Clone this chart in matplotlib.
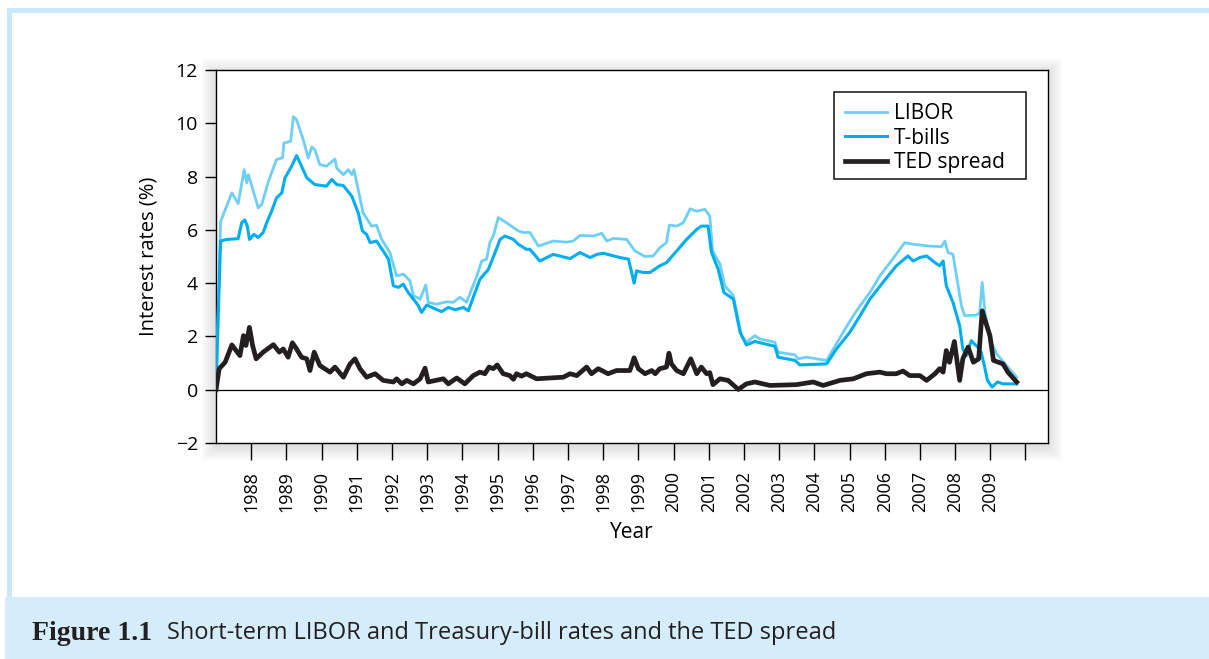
import numpy as np
import matplotlib.pyplot as plt
from matplotlib.patches import Rectangle

# values (year, percent)
libor_year = [1987.0, 1987.13, 1987.45, 1987.63, 1987.80, 1987.87, 1987.92, 1988.20, 1988.30,
              1988.49, 1988.72, 1988.89, 1988.93, 1989.12, 1989.20, 1989.29, 1989.48, 1989.62,
              1989.72, 1989.81, 1989.95, 1990.14, 1990.38, 1990.43, 1990.62, 1990.76, 1990.86,
              1990.92, 1991.00, 1991.18, 1991.42, 1991.56, 1991.71, 1991.94, 1992.13, 1992.32,
              1992.51, 1992.61, 1992.80, 1992.96, 1993.03, 1993.27, 1993.55, 1993.74, 1993.93,
              1994.12, 1994.41, 1994.55, 1994.69, 1994.78, 1994.88, 1995.02, 1995.25, 1995.59,
              1995.73, 1995.92, 1996.16, 1996.58, 1996.96, 1997.15, 1997.34, 1997.72, 1997.96,
              1998.11, 1998.29, 1998.67, 1998.90, 1999.19, 1999.42, 1999.61, 1999.80, 1999.88,
              2000.09, 2000.28, 2000.47, 2000.66, 2000.89, 2001.03, 2001.11, 2001.32, 2001.46,
              2001.70, 2001.93, 2002.07, 2002.31, 2002.45, 2002.88, 2002.97, 2003.45, 2003.54,
              2003.78, 2004.35, 2004.54, 2004.82, 2005.11, 2005.30, 2005.58, 2005.86, 2006.15,
              2006.43, 2006.57, 2006.81, 2007.28, 2007.61, 2007.71, 2007.80, 2007.94, 2008.04,
              2008.18, 2008.27, 2008.61, 2008.70, 2008.77, 2008.85, 2008.99, 2009.18, 2009.46,
              2009.75]
libor = [0.0, 6.31, 7.39, 6.99, 8.26, 7.76, 8.07, 6.83, 6.95,
         7.82, 8.64, 8.70, 9.26, 9.32, 10.25, 10.13, 9.38, 8.70,
         9.11, 9.01, 8.45, 8.39, 8.66, 8.32, 8.07, 8.26, 8.07,
         8.26, 7.76, 6.64, 6.14, 6.17, 5.64, 5.15, 4.27, 4.34,
         4.09, 3.53, 3.40, 3.93, 3.28, 3.21, 3.30, 3.28, 3.47,
         3.28, 4.27, 4.83, 4.90, 5.52, 5.77, 6.46, 6.27, 5.96,
         5.90, 5.90, 5.39, 5.58, 5.54, 5.58, 5.79, 5.77, 5.87,
         5.58, 5.68, 5.64, 5.21, 5.00, 5.02, 5.33, 5.52, 6.18,
         6.14, 6.27, 6.79, 6.70, 6.77, 6.52, 5.21, 4.71, 3.90,
         3.53, 2.03, 1.78, 2.03, 1.91, 1.78, 1.41, 1.31, 1.16,
         1.22, 1.10, 1.53, 2.16, 2.78, 3.15, 3.65, 4.27, 4.77,
         5.27, 5.52, 5.46, 5.39, 5.37, 5.58, 5.15, 5.08, 4.27,
         3.15, 2.78, 2.80, 2.90, 4.03, 2.90, 1.91, 1.35, 0.91,
         0.47]

tbill_year = [1987.0, 1987.13, 1987.30, 1987.63, 1987.73, 1987.82, 1987.89, 1987.95, 1988.08,
              1988.20, 1988.34, 1988.44, 1988.58, 1988.72, 1988.87, 1988.96, 1989.15, 1989.29,
              1989.43, 1989.58, 1989.81, 1990.14, 1990.29, 1990.43, 1990.62, 1990.86, 1991.04,
              1991.16, 1991.28, 1991.38, 1991.56, 1991.75, 1991.90, 1992.04, 1992.18, 1992.32,
              1992.46, 1992.61, 1992.75, 1992.84, 1992.99, 1993.13, 1993.41, 1993.60, 1993.79,
              1994.03, 1994.17, 1994.36, 1994.50, 1994.74, 1994.93, 1995.07, 1995.21, 1995.45,
              1995.59, 1995.82, 1995.92, 1996.20, 1996.58, 1997.06, 1997.34, 1997.63, 1997.82,
              1998.01, 1998.48, 1998.72, 1998.81, 1998.88, 1998.95, 1999.14, 1999.33, 1999.61,
              1999.80, 2000.09, 2000.37, 2000.66, 2000.79, 2000.98, 2001.08, 2001.27, 2001.43,
              2001.70, 2001.89, 2002.07, 2002.31, 2002.88, 2002.97, 2003.45, 2003.59, 2004.35,
              2004.63, 2005.01, 2005.30, 2005.58, 2005.95, 2006.33, 2006.66, 2006.81, 2007.00,
              2007.19, 2007.43, 2007.56, 2007.66, 2007.75, 2007.94, 2008.13, 2008.22, 2008.32,
              2008.46, 2008.64, 2008.74, 2008.83, 2008.92, 2009.05, 2009.21, 2009.36, 2009.75]
tbill = [0.0, 5.58, 5.64, 5.67, 6.27, 6.37, 6.14, 5.64, 5.83,
         5.71, 5.90, 6.27, 6.70, 7.20, 7.39, 7.95, 8.39, 8.79,
         8.39, 7.95, 7.70, 7.64, 7.89, 7.70, 7.66, 7.26, 6.64,
         5.96, 5.83, 5.52, 5.58, 5.21, 4.90, 3.90, 3.84, 3.96,
         3.65, 3.40, 3.15, 2.90, 3.18, 3.09, 2.93, 3.09, 3.00,
         3.09, 2.96, 3.65, 4.15, 4.52, 5.15, 5.64, 5.77, 5.64,
         5.46, 5.27, 5.27, 4.83, 5.08, 4.92, 5.15, 4.96, 5.08,
         5.12, 4.96, 4.90, 4.40, 4.00, 4.46, 4.40, 4.40, 4.65,
         4.77, 5.21, 5.64, 6.02, 6.14, 6.14, 5.15, 4.52, 3.65,
         3.40, 2.16, 1.68, 1.81, 1.63, 1.22, 1.10, 0.93, 0.97,
         1.53, 2.16, 2.78, 3.40, 4.03, 4.65, 5.02, 4.83, 4.96,
         5.02, 4.77, 4.65, 4.83, 3.90, 3.28, 2.40, 1.53, 1.28,
         1.84, 1.60, 1.41, 0.91, 0.35, 0.10, 0.29, 0.22, 0.22]

ted_year = [1987.0, 1987.09, 1987.26, 1987.45, 1987.68, 1987.78, 1987.85, 1987.95, 1988.04,
            1988.14, 1988.34, 1988.63, 1988.80, 1988.91, 1989.05, 1989.17, 1989.29, 1989.43,
            1989.58, 1989.67, 1989.79, 1989.95, 1990.24, 1990.38, 1990.62, 1990.81, 1990.95,
            1991.09, 1991.28, 1991.52, 1991.75, 1992.04, 1992.13, 1992.28, 1992.42, 1992.61,
            1992.80, 1992.94, 1993.03, 1993.46, 1993.60, 1993.84, 1994.07, 1994.31, 1994.50,
            1994.64, 1994.76, 1994.88, 1994.99, 1995.16, 1995.35, 1995.45, 1995.54, 1995.68,
            1995.82, 1996.11, 1996.87, 1997.06, 1997.25, 1997.53, 1997.67, 1997.86, 1998.14,
            1998.38, 1998.76, 1998.88, 1999.00, 1999.19, 1999.38, 1999.48, 1999.61, 1999.80,
            1999.87, 1999.94, 2000.09, 2000.28, 2000.49, 2000.66, 2000.79, 2000.94, 2001.03,
            2001.12, 2001.32, 2001.55, 2001.84, 2002.07, 2002.31, 2002.74, 2003.49, 2003.97,
            2004.25, 2004.73, 2005.11, 2005.48, 2005.86, 2006.05, 2006.33, 2006.52, 2006.71,
            2007.00, 2007.19, 2007.43, 2007.56, 2007.66, 2007.75, 2007.84, 2007.98, 2008.13,
            2008.22, 2008.37, 2008.52, 2008.67, 2008.77, 2008.87, 2008.99, 2009.09, 2009.36,
            2009.50, 2009.75]
ted = [0.0, 0.79, 1.03, 1.68, 1.28, 2.03, 1.66, 2.34, 1.66,
       1.16, 1.41, 1.69, 1.41, 1.53, 1.22, 1.76, 1.53, 1.22,
       1.16, 0.72, 1.41, 0.91, 0.66, 0.85, 0.47, 0.97, 1.16,
       0.79, 0.47, 0.60, 0.35, 0.29, 0.41, 0.22, 0.35, 0.22,
       0.41, 0.81, 0.29, 0.41, 0.22, 0.44, 0.22, 0.53, 0.66,
       0.60, 0.85, 0.79, 0.93, 0.60, 0.53, 0.39, 0.60, 0.51,
       0.60, 0.41, 0.47, 0.60, 0.53, 0.85, 0.60, 0.79, 0.60,
       0.72, 0.72, 1.20, 0.79, 0.60, 0.72, 0.60, 0.79, 0.85,
       1.37, 0.97, 0.72, 0.60, 1.16, 0.60, 0.85, 0.60, 0.64,
       0.19, 0.41, 0.35, 0.01, 0.22, 0.29, 0.16, 0.19, 0.29,
       0.16, 0.35, 0.41, 0.60, 0.66, 0.60, 0.60, 0.70, 0.53,
       0.53, 0.35, 0.60, 0.79, 0.66, 1.47, 1.03, 1.81, 0.35,
       1.16, 1.60, 1.03, 1.16, 2.96, 2.53, 2.03, 1.10, 0.97,
       0.66, 0.29]

years = list(range(1988, 2011))
year_labels = [str(y) for y in range(1988, 2010)] + [""]

LIBOR_C = "#6dcff6"
TBILL_C = "#00aeef"
TED_C = "#231f20"
FRAME_C = "#c9e9fa"
CAPTION_C = "#d5edfa"

plt.rcParams["font.family"] = ["Open Sans", "DejaVu Sans"]

W, H = 1209, 659
fig = plt.figure(figsize=(W / 100, H / 100), dpi=100)


def px_rect(x0, y0, x1, y1, color, z=-1, alpha=1.0):
    """Rectangle given in image pixels (origin top-left)."""
    fig.patches.append(Rectangle((x0 / W, 1 - y1 / H), (x1 - x0) / W, (y1 - y0) / H,
                                 transform=fig.transFigure, color=color, lw=0,
                                 zorder=z, alpha=alpha))


px_rect(7, 8, W, 13, FRAME_C, z=-3)
px_rect(7, 8, 12, 597, FRAME_C, z=-3)
px_rect(5, 597, W, H, CAPTION_C, z=-3)

# soft drop shadow around the plotting box (drawn below the axes)
AX_L, AX_R, AX_T, AX_B = 216, 1048, 70, 443
for k in range(1, 16):
    px_rect(AX_L - k, AX_T - k + 3, AX_R + k, AX_B + k + 3, "#000000", z=-2, alpha=0.006)

ax = fig.add_axes([AX_L / W, 1 - AX_B / H, (AX_R - AX_L) / W, (AX_B - AX_T) / H])
ax.set_facecolor("white")

ax.plot(libor_year, libor, color=LIBOR_C, lw=2.0, label="LIBOR", zorder=3)
ax.plot(tbill_year, tbill, color=TBILL_C, lw=2.2, label="T-bills", zorder=4)
ax.plot(ted_year, ted, color=TED_C, lw=3.4, label="TED spread", zorder=5)
ax.axhline(0, color="black", lw=0.9, zorder=2)

ax.set_xlim(1987.0, 2010.64)
ax.set_ylim(-2, 12)
ax.set_yticks(range(-2, 13, 2))
ax.set_yticklabels(["\u22122"] + [str(v) for v in range(0, 13, 2)])
ax.set_xticks(years)
ax.set_xticklabels(year_labels, rotation=90)
ax.tick_params(axis="x", direction="out", length=12, width=1, labelsize=13, pad=8)
ax.tick_params(axis="y", direction="out", length=8, width=1, labelsize=14, pad=5)
for s in ax.spines.values():
    s.set_linewidth(1.0)

ax.set_ylabel("Interest rates (%)", fontsize=14.5, labelpad=12)
ax.set_xlabel("Year", fontsize=15, labelpad=7)

# legend entries without frame; the box is drawn separately to match the reference
leg = ax.legend(loc="upper left", bbox_to_anchor=((845 - AX_L) / 832, (AX_B - 103) / 373),
                fontsize=15, frameon=False, handlelength=2.0, handletextpad=0.35,
                borderpad=0, labelspacing=0.17, borderaxespad=0)
ax.add_patch(Rectangle(((834 - AX_L) / 832, (AX_B - 179) / 373), 192 / 832, 87 / 373,
                       transform=ax.transAxes, fill=False, edgecolor="#222222",
                       lw=1.2, zorder=6))

fig.text(32 / W, 1 - 633 / H, "Figure 1.1", family="Liberation Serif", weight="bold",
         fontsize=20, va="center", ha="left", color="#231f20")
fig.text(167 / W, 1 - 633 / H, "Short-term LIBOR and Treasury-bill rates and the TED spread",
         fontsize=17, va="center", ha="left", color="#231f20")

fig.savefig("out.png", dpi=100)
